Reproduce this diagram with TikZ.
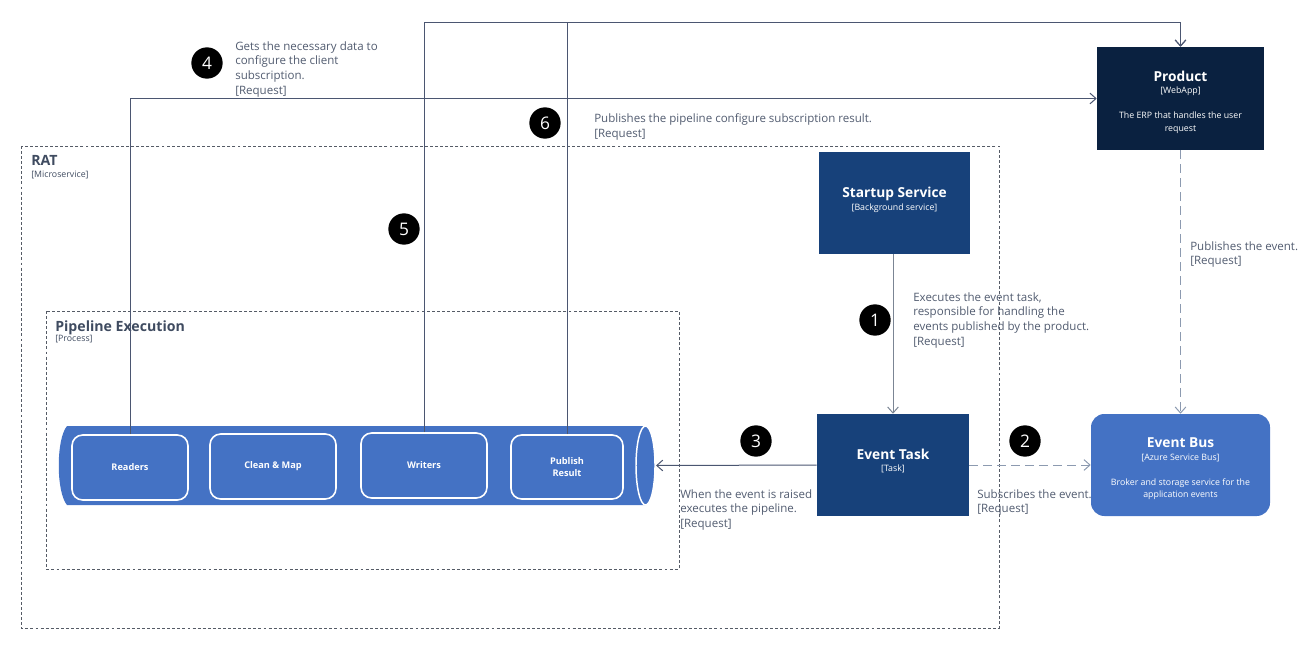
\documentclass[tikz,border=0pt]{standalone}
\usepackage{fontspec}
\setmainfont{Open Sans}
\usetikzlibrary{arrows.meta,calc}
\definecolor{pipeblue}{HTML}{4472C4}
\definecolor{svcblue}{HTML}{17417A}
\definecolor{appnavy}{HTML}{0A2140}
\definecolor{labelgray}{HTML}{525C70}
\definecolor{titlegray}{HTML}{3F4B60}
\definecolor{linedark}{HTML}{4B5671}
\definecolor{linelight}{HTML}{7B8594}
\definecolor{linedash}{HTML}{8C9AB0}
\definecolor{boundgray}{HTML}{555B66}
\newcommand\bxtitle{\bfseries\fontsize{10.3}{12}\selectfont}
\newcommand\bxsub{\normalfont\fontsize{6.6}{8}\selectfont}
\newcommand\reqtag{{[Request]}}
\begin{document}
\begin{tikzpicture}[x=0.75pt,y=-0.75pt,
  boundary/.style={draw=boundgray, dash pattern=on 2.2pt off 1.6pt, line width=0.6pt},
  btitle/.style={anchor=north west, inner sep=0pt, text=titlegray, font=\bfseries\fontsize{10.6}{12}\selectfont},
  bsub/.style={anchor=north west, inner sep=0pt, text=titlegray, font=\fontsize{6.6}{8}\selectfont},
  svcbox/.style={fill=svcblue, inner sep=0pt},
  svctext/.style={text=white, align=center, inner sep=0pt},
  stepbox/.style={fill=pipeblue, draw=white, line width=1.2pt, rounded corners=8pt, text=white,
    align=center, inner sep=0pt, minimum height=48.75pt, font=\bfseries\fontsize{6.9}{8.6}\selectfont},
  badge/.style={circle, fill=black, text=white, minimum size=23.5pt, inner sep=0pt, font=\fontsize{13}{13}\selectfont},
  rel/.style={anchor=north west, inner sep=0pt, align=left, text=labelgray, font=\fontsize{8.65}{11.1}\selectfont},
  conn/.style={draw=linedark, line width=0.75pt, -{Straight Barb[length=4.5pt,width=8pt]}},
  connlight/.style={conn, draw=linelight},
  conndash/.style={conn, draw=linedash, dash pattern=on 6.5pt off 4pt}
]
\useasboundingbox (0,0) rectangle (1306,657);

% System boundaries
\draw[boundary] (21,146) rectangle (999,628);
\node[btitle] (ratT) at (31,155) {RAT};
\node[bsub] (ratS) at (31,171) {[Microservice]};
\draw[boundary] (46,311) rectangle (679,569);
\node[btitle] (peT) at (55,320) {Pipeline Execution};
\node[bsub] (peS) at (55,335) {[Process]};

% Pipeline cylinder: body with curved rear end, and the open front end
\fill[pipeblue] (67,426) -- (646,426) -- (646,505) -- (67,505)
  .. controls (56,492) and (56,439) .. (67,426) -- cycle;
\draw[white, line width=1.1pt, fill=pipeblue] (645.5,465.5) ellipse [x radius=9.5, y radius=39.5];
\coordinate (pipeEnd) at (656,465.5);

% Pipeline steps
\node[stepbox, minimum width=87pt] (readers) at (130,467.5) {Readers};
\node[stepbox, minimum width=94.5pt] (clean) at (273,466.5) {Clean \& Map};
\node[stepbox, minimum width=94.5pt] (writers) at (424,465.5) {Writers};
\node[stepbox, minimum width=84pt, minimum height=48pt] (publish) at (567,467) {Publish\\Result};

% Containers
\node[svcbox, minimum width=113.25pt, minimum height=76.5pt] (startup) at (894.5,203) {};
\node[svctext] (startupTxt) at (894.5,200)
  {{\bxtitle Startup Service}\\[-2.5pt]{\bxsub [Background service]}};
\node[svcbox, minimum width=114pt, minimum height=76.5pt] (etask) at (893,465) {};
\node[svctext] (etaskTxt) at (893,461)
  {{\bxtitle Event Task}\\[-2.5pt]{\bxsub [Task]}};
\node[svcbox, fill=appnavy, minimum width=125.25pt, minimum height=77.25pt] (product) at (1180.5,98.5) {};
\node[svctext] (productTxt) at (1180.5,102)
  {{\bxtitle Product}\\[-2.5pt]{\bxsub [WebApp]}\\[6.5pt]{\bxsub The ERP that handles the user}\\[-2.5pt]{\bxsub request}};
\node[svcbox, fill=pipeblue, rounded corners=10pt, minimum width=134.25pt, minimum height=76.5pt] (ebus) at (1180.5,465) {};
\node[svctext] (ebusTxt) at (1180.5,469)
  {{\bxtitle Event Bus}\\[-2.5pt]{\bxsub [Azure Service Bus]}\\[6.5pt]{\bxsub Broker and storage service for the}\\[-2.5pt]{\bxsub application events}};

% Relationships
\coordinate (topline) at (0,22);
\draw[conn] (readers.north) |- (product.west);
\draw[conn] (writers.north) -- (writers.north |- topline) -| (product.north);
\draw[conn] (publish.north) -- (publish.north |- topline) -| (product.north);
\draw[connlight] (startup.south -| etask.north) -- (etask.north);
\draw[conn] (etask.west) -- (pipeEnd);
\draw[conndash] (etask.east) -- (ebus.west);
\draw[conndash] (product.south) -- (ebus.north);

% Relationship descriptions
\node[rel] (l4) at (235,41) {Gets the necessary data to\\configure the client\\subscription.\\\reqtag};
\node[rel] (l6) at (594,113.5) {Publishes the pipeline configure subscription result.\\\reqtag};
\node[rel] (l1) at (913,292) {Executes the event task,\\responsible for handling the\\events published by the product.\\\reqtag};
\node[rel] (l7) at (1190,241) {Publishes the event.\\\reqtag};
\node[rel] (l3) at (680,489) {When the event is raised\\executes the pipeline.\\\reqtag};
\node[rel] (l2) at (977,489) {Subscribes the event.\\\reqtag};

% Step numbers
\node[badge] (b4) at (207,63) {4};
\node[badge] (b6) at (545,123) {6};
\node[badge] (b5) at (404,229) {5};
\node[badge] (b1) at (875,320) {1};
\node[badge] (b3) at (756,441) {3};
\node[badge] (b2) at (1025,441) {2};
\end{tikzpicture}
\end{document}
